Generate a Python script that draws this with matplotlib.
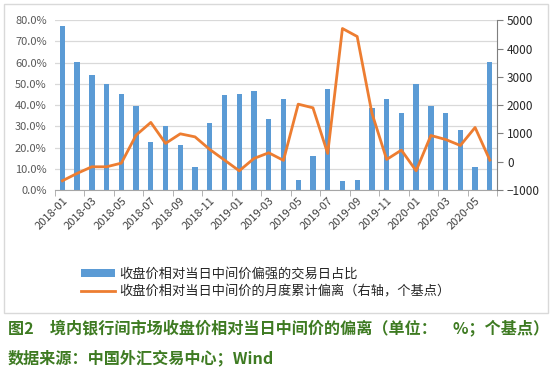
import matplotlib
matplotlib.use("Agg")
import matplotlib.pyplot as plt
from matplotlib.patches import Rectangle
from matplotlib.ticker import FuncFormatter

plt.rcParams["font.family"] = ["Noto Sans CJK SC", "DejaVu Sans"]

months = [
    "2018-01", "2018-02", "2018-03", "2018-04", "2018-05", "2018-06",
    "2018-07", "2018-08", "2018-09", "2018-10", "2018-11", "2018-12",
    "2019-01", "2019-02", "2019-03", "2019-04", "2019-05", "2019-06",
    "2019-07", "2019-08", "2019-09", "2019-10", "2019-11", "2019-12",
    "2020-01", "2020-02", "2020-03", "2020-04", "2020-05", "2020-06",
]

# share of trading days with close stronger than central parity (%)
strong_share = [
    77.3, 60.1, 54.3, 49.9, 45.2, 39.8,
    22.6, 30.1, 21.2, 11.0, 31.6, 44.7,
    45.2, 46.6, 33.4, 42.8, 4.7, 16.0,
    47.7, 4.2, 4.7, 38.6, 42.8, 36.2,
    49.9, 39.8, 36.2, 28.5, 11.0, 60.1,
]

# monthly cumulative deviation (bp, right axis)
cum_dev = [
    -670, -410, -176, -176, -47, 940,
    1390, 650, 988, 880, 435, 60,
    -318, 118, 318, 50, 2035, 1906,
    294, 4706, 4424, 1720, 82, 412,
    -318, 929, 788, 576, 1212, 59,
]

bar_label = "收盘价相对当日中间价偏强的交易日占比"
line_label = "收盘价相对当日中间价的月度累计偏离（右轴，个基点）"
caption = "图2　境内银行间市场收盘价相对当日中间价的偏离（单位：　%；个基点）"
source = "数据来源：中国外汇交易中心；Wind"

fig = plt.figure(figsize=(5.5, 3.88), dpi=100)
ax = fig.add_axes([0.1, 0.51, 0.804, 0.438])
ax2 = ax.twinx()

x = list(range(len(months)))
bars = ax.bar(x, strong_share, width=0.36, color="#5b9bd5", zorder=2)
line, = ax2.plot(x, cum_dev, color="#ed7d31", lw=2, zorder=3)

ax.set_xlim(-0.5, len(months) - 0.5)
ax.set_ylim(0, 80)
ax.set_yticks(range(0, 81, 10))
ax.yaxis.set_major_formatter(FuncFormatter(lambda v, p: f"{v:.1f}%"))
ax.grid(axis="y", color="#d9d9d9", lw=0.9, zorder=0)
ax.set_axisbelow(True)

ax2.set_ylim(-1000, 5000)
ax2.set_yticks(range(-1000, 5001, 1000))

ax.set_xticks(x[::2])
ax.set_xticklabels(months[::2], rotation=45, ha="right", rotation_mode="anchor",
                   fontsize=8, color="#404040")
ax.set_xticks([i - 0.5 for i in range(0, len(months) + 1, 2)], minor=True)
ax.tick_params(axis="x", which="major", length=0, pad=4)
ax.tick_params(axis="x", which="minor", length=4, color="#a6a6a6")
ax.tick_params(axis="y", length=0, labelsize=8, labelcolor="#595959", pad=6)
ax2.tick_params(axis="y", length=4, color="#7f7f7f", labelsize=8.5,
                labelcolor="#262626", pad=3)

for a in (ax, ax2):
    for s in ("top", "left"):
        a.spines[s].set_visible(False)
ax.spines["right"].set_visible(False)
ax.spines["bottom"].set_color("#a6a6a6")
ax2.spines["bottom"].set_visible(False)
ax2.spines["right"].set_color("#7f7f7f")

fig.legend([bars, line], [bar_label, line_label], loc="upper left",
           bbox_to_anchor=(0.125, 0.34), frameon=False, fontsize=9.5,
           handlelength=2.6, handleheight=0.6, labelspacing=0.35,
           handletextpad=0.3, labelcolor="#262626")

fig.patches.append(Rectangle((4 / 550, 1 - 313 / 388), 544 / 550, 309 / 388,
                             transform=fig.transFigure, fill=False,
                             edgecolor="#d9d9d9", lw=1))

fig.text(8 / 550, 1 - 329 / 388, caption, fontsize=11.6, fontweight="bold",
         color="#3e7b22", va="center")
fig.text(8 / 550, 1 - 358 / 388, source, fontsize=11.6, fontweight="bold",
         color="#3e7b22", va="center")

fig.savefig("out.png", dpi=100)
